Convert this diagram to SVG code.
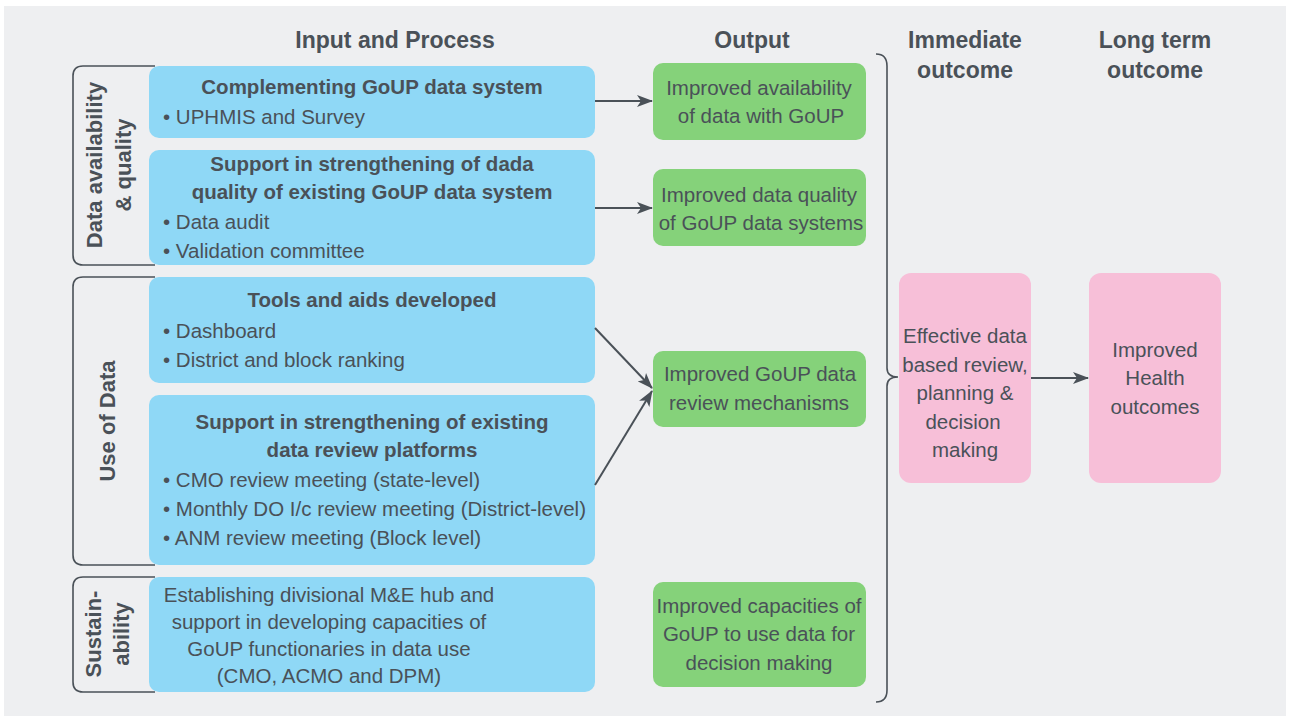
<svg xmlns="http://www.w3.org/2000/svg" width="1290" height="718" viewBox="0 0 1290 718">
<defs>
<style>
.t{font-family:"Liberation Sans Narrow","Liberation Sans",Arial,sans-serif;fill:#4a5158;font-size:20.5px}
.b{font-weight:bold}
.h{font-family:"Liberation Sans Narrow","Liberation Sans",Arial,sans-serif;fill:#4a5158;font-size:23px;font-weight:bold}
.v{font-size:22px}
.c{text-anchor:middle}
.blue{fill:#8fd8f6}
.green{fill:#85d27a}
.pink{fill:#f7bfd8}
.br{fill:none;stroke:#4a5158;stroke-width:1.6}
.ln{fill:none;stroke:#4a5158;stroke-width:2}
</style>
<marker id="ah" viewBox="0 0 16 12" refX="15" refY="6" markerWidth="16" markerHeight="12" markerUnits="userSpaceOnUse" orient="auto">
<path d="M0,0 L16,6 L0,12 L4,6 Z" fill="#4a5158"/>
</marker>
</defs>
<rect x="4" y="6" width="1282" height="710" fill="#eeeff1"/>

<g id="headers">
<text class="h c" x="395" y="48">Input and Process</text>
<text class="h c" x="752" y="48">Output</text>
<text class="h c" x="965" y="48">Immediate</text>
<text class="h c" x="965" y="78">outcome</text>
<text class="h c" x="1155" y="48">Long term</text>
<text class="h c" x="1155" y="78">outcome</text>
</g>

<g id="group-data-availability">
<path class="br" d="M155,66 H83 Q73,66 73,76 V255 Q73,265 83,265 H155"/>
<text class="h v c" transform="translate(102,165) rotate(-90)">Data availability</text>
<text class="h v c" transform="translate(131,165) rotate(-90)">&amp; quality</text>
</g>
<g id="group-use-of-data">
<path class="br" d="M155,277 H83 Q73,277 73,287 V555 Q73,565 83,565 H155"/>
<text class="h v c" transform="translate(115,421) rotate(-90)">Use of Data</text>
</g>
<g id="group-sustainability">
<path class="br" d="M155,577 H83 Q73,577 73,587 V682 Q73,692 83,692 H155"/>
<text class="h v c" transform="translate(101,634) rotate(-90)">Sustain-</text>
<text class="h v c" transform="translate(129,634) rotate(-90)">ability</text>
</g>

<g id="input1">
<rect class="blue" x="149" y="66" width="446" height="72" rx="10"/>
<text class="t b c" x="372" y="94">Complementing GoUP data system</text>
<text class="t" x="163" y="124">• UPHMIS and Survey</text>
</g>
<g id="input2">
<rect class="blue" x="149" y="150" width="446" height="115" rx="10"/>
<text class="t b c" x="372" y="171">Support in strengthening of dada</text>
<text class="t b c" x="372" y="199">quality of existing GoUP data system</text>
<text class="t" x="163" y="229">• Data audit</text>
<text class="t" x="163" y="258">• Validation committee</text>
</g>
<g id="input3">
<rect class="blue" x="149" y="277" width="446" height="106" rx="10"/>
<text class="t b c" x="372" y="307">Tools and aids developed</text>
<text class="t" x="163" y="338">• Dashboard</text>
<text class="t" x="163" y="367">• District and block ranking</text>
</g>
<g id="input4">
<rect class="blue" x="149" y="395" width="446" height="170" rx="10"/>
<text class="t b c" x="372" y="429">Support in strengthening of existing</text>
<text class="t b c" x="372" y="457">data review platforms</text>
<text class="t" x="163" y="487">• CMO review meeting (state-level)</text>
<text class="t" x="163" y="516">• Monthly DO I/c review meeting (District-level)</text>
<text class="t" x="163" y="545">• ANM review meeting (Block level)</text>
</g>
<g id="input5">
<rect class="blue" x="149" y="577" width="446" height="115" rx="10"/>
<text class="t c" x="329" y="602">Establishing divisional M&amp;E hub and</text>
<text class="t c" x="329" y="629">support in developing capacities of</text>
<text class="t c" x="329" y="656">GoUP functionaries in data use</text>
<text class="t c" x="329" y="683">(CMO, ACMO and DPM)</text>
</g>

<g id="output1">
<rect class="green" x="653" y="63" width="213" height="77" rx="10"/>
<text class="t c" x="759" y="95">Improved availability</text>
<text class="t c" x="761" y="123">of data with GoUP</text>
</g>
<g id="output2">
<rect class="green" x="653" y="169" width="213" height="77" rx="10"/>
<text class="t c" x="759" y="202">Improved data quality</text>
<text class="t c" x="761" y="230">of GoUP data systems</text>
</g>
<g id="output3">
<rect class="green" x="653" y="351" width="213" height="76" rx="10"/>
<text class="t c" x="760" y="381">Improved GoUP data</text>
<text class="t c" x="759" y="410">review mechanisms</text>
</g>
<g id="output4">
<rect class="green" x="653" y="582" width="213" height="105" rx="10"/>
<text class="t c" x="759" y="613">Improved capacities of</text>
<text class="t c" x="759" y="641">GoUP to use data for</text>
<text class="t c" x="759" y="670">decision making</text>
</g>

<g id="immediate">
<rect class="pink" x="899" y="273" width="132" height="210" rx="12"/>
<text class="t c" x="965" y="343">Effective data</text>
<text class="t c" x="965" y="372">based review,</text>
<text class="t c" x="965" y="400">planning &amp;</text>
<text class="t c" x="963" y="429">decision</text>
<text class="t c" x="965" y="457">making</text>
</g>
<g id="longterm">
<rect class="pink" x="1089" y="273" width="132" height="210" rx="12"/>
<text class="t c" x="1155" y="357">Improved</text>
<text class="t c" x="1155" y="385">Health</text>
<text class="t c" x="1155" y="414">outcomes</text>
</g>

<g id="connectors">
<line class="ln" x1="595" y1="101" x2="652" y2="101" marker-end="url(#ah)"/>
<line class="ln" x1="595" y1="208" x2="652" y2="208" marker-end="url(#ah)"/>
<line class="ln" x1="595" y1="328" x2="652" y2="388" marker-end="url(#ah)"/>
<line class="ln" x1="595" y1="485" x2="652" y2="391" marker-end="url(#ah)"/>
<line class="ln" x1="1031" y1="378" x2="1088" y2="378" marker-end="url(#ah)"/>
<path class="br" d="M876,54 Q887,54 887,66 V368 Q887,377 898,377 Q887,377 887,386 V690 Q887,702 876,702"/>
</g>
</svg>
